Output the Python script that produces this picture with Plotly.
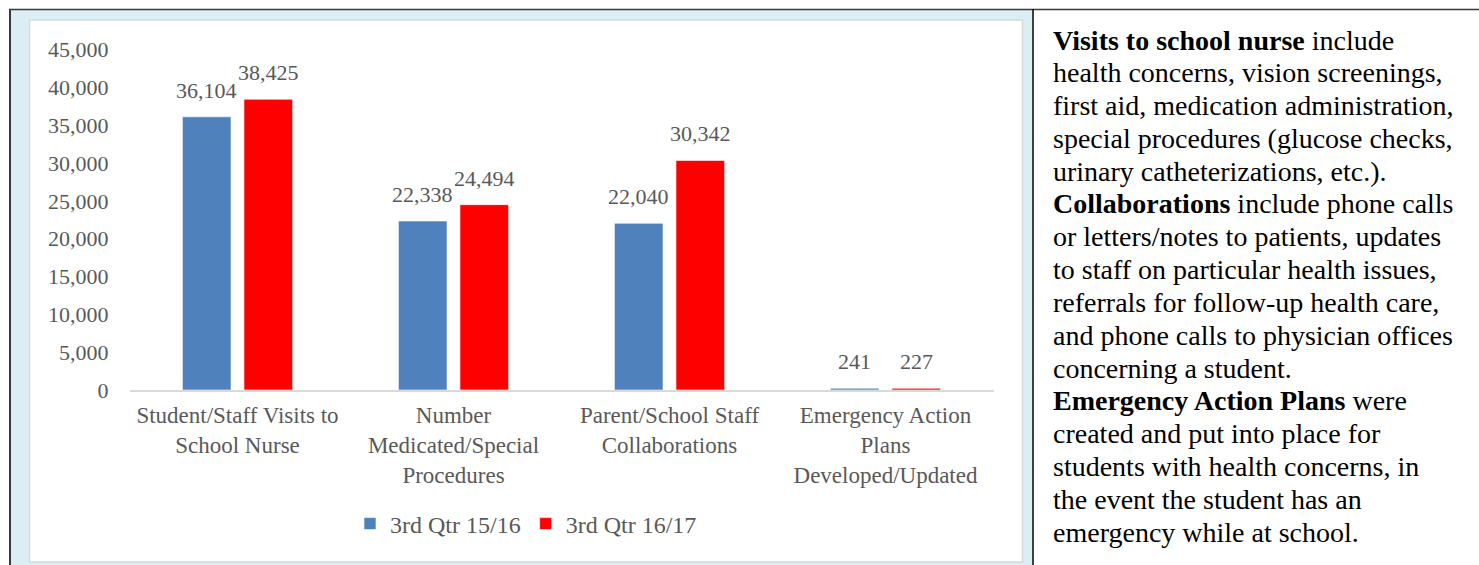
import plotly.graph_objects as go

W, H = 1479, 565

categories = [
    "Student/Staff Visits to<br>School Nurse",
    "Number<br>Medicated/Special<br>Procedures",
    "Parent/School Staff<br>Collaborations",
    "Emergency Action<br>Plans<br>Developed/Updated",
]
series_names = ["3rd Qtr 15/16", "3rd Qtr 16/17"]
values_1516 = [36104, 22338, 22040, 241]
values_1617 = [38425, 24494, 30342, 227]
series_colors = ["#4F81BD", "#FF0000"]
y_ticks = [0, 5000, 10000, 15000, 20000, 25000, 30000, 35000, 40000, 45000]

text_lines = [
    "<b>Visits to school nurse</b> include",
    "health concerns, vision screenings,",
    "first aid, medication administration,",
    "special procedures (glucose checks,",
    "urinary catheterizations, etc.).",
    "<b>Collaborations</b> include phone calls",
    "or letters/notes to patients, updates",
    "to staff on particular health issues,",
    "referrals for follow-up health care,",
    "and phone calls to physician offices",
    "concerning a student.",
    "<b>Emergency Action Plans</b> were",
    "created and put into place for",
    "students with health concerns, in",
    "the event the student has an",
    "emergency while at school.",
]

FONT = "Liberation Serif"
GREY = "#595959"


def px(x):
    return x / W


def py(y):
    return 1 - y / H


fig = go.Figure()
for name, vals, col in zip(series_names, [values_1516, values_1617], series_colors):
    fig.add_trace(go.Bar(
        name=name, x=categories, y=vals,
        marker=dict(color=col, line=dict(color="rgba(255,255,255,0.6)", width=1)),
        hoverinfo="skip",
    ))

# data labels
shift = 30.75
annotations = []
for vals, dx in [(values_1516, -shift), (values_1617, shift)]:
    for c, v in zip(categories, vals):
        annotations.append(dict(
            x=c, y=v, xref="x", yref="y", text=f"{v:,}", showarrow=False,
            xshift=dx, yshift=12, yanchor="bottom", xanchor="center",
            font=dict(family=FONT, size=22, color=GREY),
        ))

# right-hand text
for i, line in enumerate(text_lines):
    annotations.append(dict(
        x=px(1051), y=py(40 + i * 32.8), xref="paper", yref="paper",
        text=line, showarrow=False, xanchor="left", yanchor="middle",
        align="left", font=dict(family=FONT, size=28, color="#000000"),
    ))

shapes = [
    # light blue cell
    dict(type="rect", xref="paper", yref="paper", x0=px(10), x1=px(1032.5),
         y0=py(565), y1=py(10), fillcolor="#DBEEF4", line=dict(width=0), layer="below"),
    # inner chart area
    dict(type="rect", xref="paper", yref="paper", x0=px(29.5), x1=px(1022.5),
         y0=py(562), y1=py(20), fillcolor="#FFFFFF",
         line=dict(color="#D9D9D9", width=1.5), layer="below"),
    # table borders
    dict(type="line", xref="paper", yref="paper", x0=px(9), x1=1,
         y0=py(9.5), y1=py(9.5), line=dict(color="#3A3A3A", width=1.5), layer="above"),
    dict(type="line", xref="paper", yref="paper", x0=px(10), x1=px(10),
         y0=py(9), y1=0, line=dict(color="#3A3A3A", width=2), layer="above"),
    dict(type="line", xref="paper", yref="paper", x0=px(1033), x1=px(1033),
         y0=py(9), y1=0, line=dict(color="#000000", width=1.5), layer="above"),
]

fig.update_layout(
    width=W, height=H,
    margin=dict(l=0, r=0, t=0, b=0, pad=0, autoexpand=False),
    paper_bgcolor="#FFFFFF",
    plot_bgcolor="rgba(0,0,0,0)",
    barmode="group",
    bargap=0.43,
    bargroupgap=0.21,
    font=dict(family=FONT, size=22, color=GREY),
    xaxis=dict(
        domain=[px(129.5), px(993.5)], automargin=False,
        showgrid=False, showline=True, linecolor="#D9D9D9", linewidth=1.5,
        ticks="", tickfont=dict(family=FONT, size=23, color=GREY),
        ticklabelstandoff=4, fixedrange=True,
    ),
    yaxis=dict(
        domain=[py(390), py(49.5)], automargin=False,
        range=[0, 45000], tickvals=y_ticks, tickformat=",",
        showgrid=False, zeroline=False, showline=False, ticks="",
        tickfont=dict(family=FONT, size=22, color=GREY),
        ticklabelstandoff=20, fixedrange=True,
    ),
    legend=dict(
        orientation="h", x=px(526), y=py(524), xanchor="center", yanchor="middle",
        font=dict(family=FONT, size=24, color=GREY), bgcolor="rgba(0,0,0,0)",
        traceorder="normal", itemwidth=30,
    ),
    showlegend=True,
    annotations=annotations,
    shapes=shapes,
)

fig.write_html("out.html", config={"displayModeBar": False})
